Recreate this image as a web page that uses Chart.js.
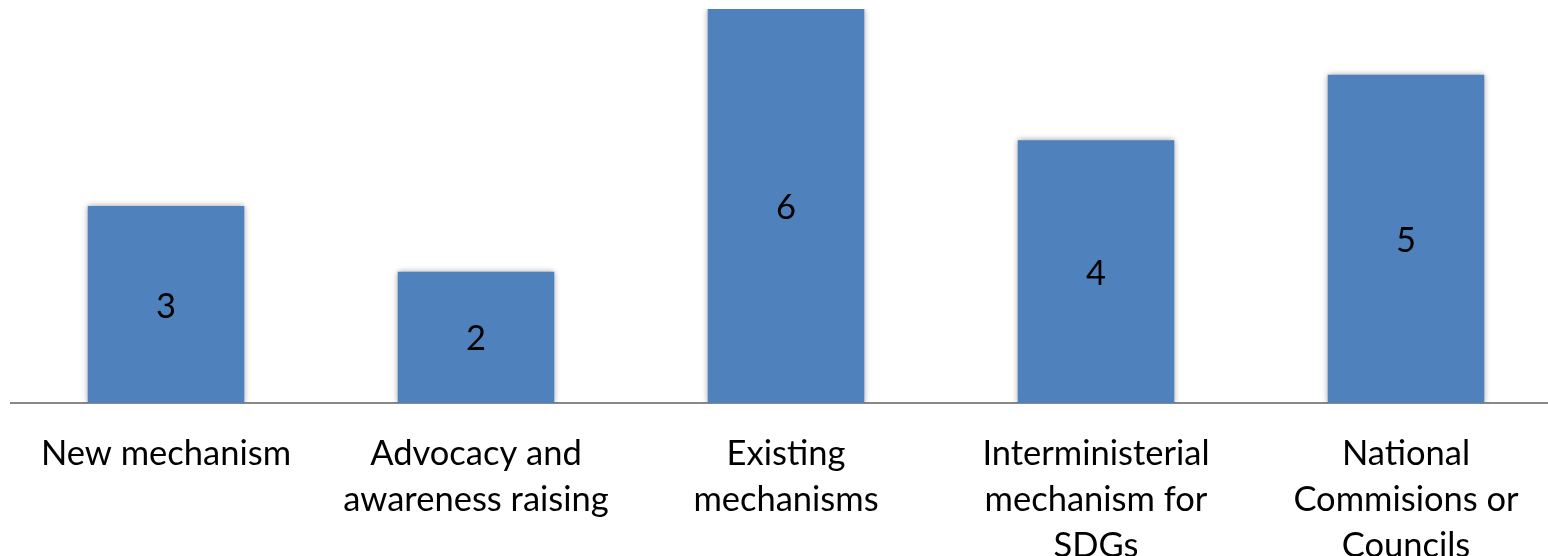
<!DOCTYPE html>
<html>
<head>
<meta charset="utf-8">
<script src="https://cdn.jsdelivr.net/npm/chart.js@4"></script>
<style>
  html, body { margin: 0; padding: 0; background: #fff; overflow: hidden; }
  #wrap { position: relative; width: 1562px; height: 556px; }
</style>
</head>
<body>
<div id="wrap"><canvas id="c"></canvas></div>
<script>
// Categories (multi-line tick labels) and counts
const categories = [
  ["New mechanism"],
  ["Advocacy and", "awareness raising"],
  ["Existing", "mechanisms"],
  ["Interministerial", "mechanism for", "SDGs"],
  ["National", "Commisions or", "Councils"]
];
const counts = [3, 2, 6, 4, 5];

const FONT = "Lato, 'Open Sans', sans-serif";
const FONT_SIZE = 34.5;

// Soft shadow around the bars
const barShadow = {
  id: 'barShadow',
  beforeDatasetDraw(chart) {
    const ctx = chart.ctx;
    ctx.save();
    ctx.shadowColor = 'rgba(0,0,0,0.4)';
    ctx.shadowBlur = 6;
    ctx.shadowOffsetX = 0;
    ctx.shadowOffsetY = 0;
  },
  afterDatasetDraw(chart) {
    chart.ctx.restore();
  }
};

// Value labels centred inside each bar
const centerLabels = {
  id: 'centerLabels',
  afterDatasetsDraw(chart) {
    const ctx = chart.ctx;
    const meta = chart.getDatasetMeta(0);
    const data = chart.data.datasets[0].data;
    ctx.save();
    ctx.font = FONT_SIZE + "px " + FONT;
    ctx.fillStyle = '#000';
    ctx.textAlign = 'center';
    ctx.textBaseline = 'middle';
    meta.data.forEach((bar, i) => {
      const p = bar.getProps(['x', 'y', 'base'], true);
      ctx.fillText(String(data[i]), p.x, (p.y + p.base) / 2 + 2);
    });
    ctx.restore();
  }
};

new Chart(document.getElementById('c'), {
  type: 'bar',
  data: {
    labels: categories,
    datasets: [{
      data: counts,
      backgroundColor: '#4F81BD',
      borderWidth: 0,
      categoryPercentage: 1,
      barPercentage: 0.505
    }]
  },
  options: {
    responsive: true,
    maintainAspectRatio: false,
    animation: false,
    layout: { padding: { left: 11, right: 1, top: 9, bottom: 0 } },
    plugins: { legend: { display: false }, tooltip: { enabled: false } },
    scales: {
      x: {
        grid: { display: false },
        border: { display: true, color: '#888888', width: 2 },
        ticks: {
          color: '#000',
          font: { family: FONT, size: FONT_SIZE, lineHeight: 46 / FONT_SIZE },
          padding: 20,
          maxRotation: 0,
          autoSkip: false
        },
        afterFit(scale) { scale.height = 153; }
      },
      y: {
        display: false,
        min: 0,
        max: 6
      }
    }
  },
  plugins: [barShadow, centerLabels]
});
</script>
</body>
</html>
